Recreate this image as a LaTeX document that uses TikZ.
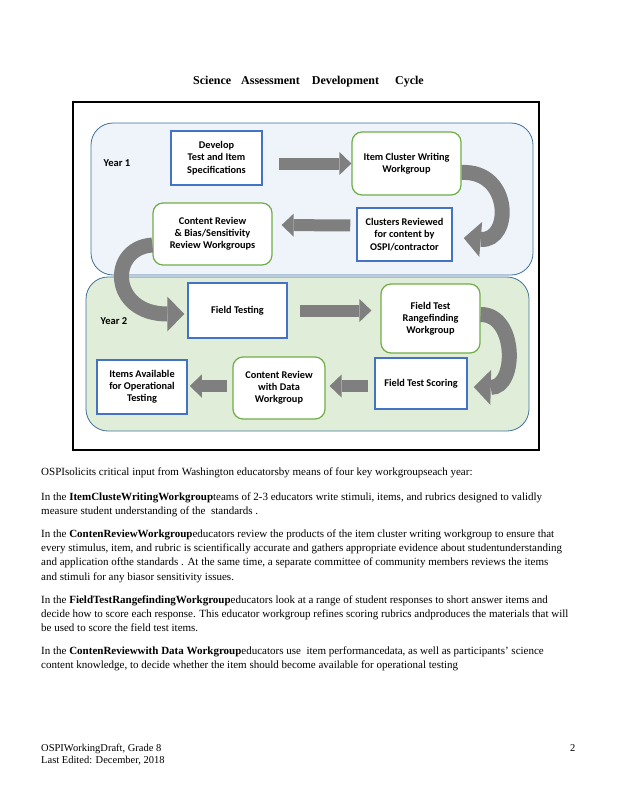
\documentclass[tikz,border=0pt]{standalone}
\usepackage{fontspec}
\setmainfont{Liberation Serif}
\newfontfamily\diagfont{Carlito}
\usetikzlibrary{arrows.meta}

\definecolor{yearone}{RGB}{239,244,251}
\definecolor{yeartwo}{RGB}{224,237,216}
\definecolor{yearline}{RGB}{65,113,156}
\definecolor{boxblue}{RGB}{68,114,196}
\definecolor{boxgreen}{RGB}{112,173,71}
\definecolor{arrowgray}{RGB}{127,127,127}

\begin{document}
\begin{tikzpicture}[x=1pt,y=-1pt,
    every node/.style={inner sep=0pt},
    stepnode/.style={font=\diagfont\bfseries\fontsize{10.3}{12.2}\selectfont, align=center, fill=white},
    bluebox/.style={stepnode, draw=boxblue, line width=1.5pt},
    greenbox/.style={stepnode, draw=boxgreen, line width=1.2pt, rounded corners=10pt},
    yearbox/.style={draw=yearline, line width=0.8pt, rounded corners=22pt},
    yearlabel/.style={font=\diagfont\bfseries\fontsize{10.5}{12}\selectfont},
    bigarrow/.style={draw=arrowgray, line width=12pt, -{Triangle[length=12pt,width=23pt,line width=0pt]}},
    bendarrow/.style={draw=arrowgray, line width=15pt, -{Triangle[length=17pt,width=35pt,line width=0pt]}},
    bodytext/.style={anchor=north west, align=left, font=\fontsize{11}{14.2}\selectfont}]

    \path[fill=white,use as bounding box] (0,0) rectangle (618,800);

    \node (Title) at (308.5,82) {\fontsize{12}{14}\selectfont\bfseries Science\hspace{10pt}Assessment\hspace{12pt}Development\hspace{16pt}Cycle};

    % frame and the two years
    \draw[line width=2pt] (73,102) rectangle (539,450);
    \draw[yearbox, fill=yearone] (91,123) rectangle (533,275);
    \draw[yearbox, fill=yeartwo] (86,277) rectangle (529,431);
    \node[yearlabel] (YearOne) at (117,163) {Year 1};
    \node[yearlabel] (YearTwo) at (114,321) {Year 2};

    % year 1
    \node[bluebox, minimum width=91pt, minimum height=54pt] (DevelopSpec) at (216.5,158) {Develop\\Test and Item\\Specifications};
    \node[greenbox, minimum width=109pt, minimum height=63pt] (ClusterWriting) at (406.5,163.5) {Item Cluster Writing\\Workgroup};
    \node[bluebox, minimum width=95pt, minimum height=53pt] (ClustersReviewed) at (404.5,234.5) {Clusters Reviewed\\for content by\\OSPI/contractor};
    \node[greenbox, minimum width=119pt, minimum height=62pt] (ContentReview) at (212.5,234) {Content Review\\\& Bias/Sensitivity\\Review Workgroups};

    % year 2
    \node[bluebox, minimum width=99pt, minimum height=55pt] (FieldTesting) at (237.5,310.5) {Field Testing};
    \node[greenbox, minimum width=99pt, minimum height=69pt] (Rangefinding) at (430.5,318.5) {Field Test\\Rangefinding\\Workgroup};
    \node[bluebox, minimum width=92pt, minimum height=51pt] (FieldScoring) at (421,383.5) {Field Test Scoring};
    \node[greenbox, minimum width=92pt, minimum height=62pt] (ContentData) at (279,388) {Content Review\\with Data\\Workgroup};
    \node[bluebox, minimum width=90pt, minimum height=54pt] (ItemsAvailable) at (142,387) {Items Available\\for Operational\\Testing};

    \begin{scope}[every path/.style={bigarrow}]
       \draw[shorten <=16pt] (DevelopSpec.east |- ClusterWriting.west) -- (ClusterWriting.west);
       \draw[shorten <=6pt, shorten >=9pt] ([yshift=9pt]ClustersReviewed.west) -- ([yshift=9pt]ContentReview.east);
       \draw[shorten <=12pt, shorten >=9pt] (FieldTesting.east) -- (FieldTesting.east -| Rangefinding.west);
       \draw[shorten <=6pt, shorten >=4pt] ([yshift=-2.5pt]FieldScoring.west) -- ([yshift=2pt]ContentData.east);
       \draw[shorten <=5pt, shorten >=2pt] ([yshift=2pt]ContentData.west) -- ([yshift=1pt]ItemsAvailable.east);
    \end{scope}

    \begin{scope}[every path/.style={bendarrow}]
       \draw ([yshift=-9pt]ClusterWriting.east) .. controls (512,170) and (512,242) .. ([xshift=11pt,yshift=-3.5pt]ClustersReviewed.east);
       \draw ([yshift=-11pt]ContentReview.west) .. controls (108,248) and (110,314) .. ([xshift=-3pt,yshift=-3.5pt]FieldTesting.west);
       \draw ([yshift=4pt]Rangefinding.east) .. controls (517,314) and (517,388) .. ([xshift=6pt,yshift=-3.5pt]FieldScoring.east);
    \end{scope}

    % text below the diagram
    \node[bodytext] (IntroText) at (41,467.5) {OSPIsolicits critical input from Washington educatorsby means of four key workgroupseach year:};
    \node[bodytext] (ClusterText) at (41,492.5) {In the \textbf{ItemClusteWritingWorkgroup}teams of 2-3 educators write stimuli, items, and rubrics designed to validly\\
       measure student understanding of the\ \ standards .};
    \node[bodytext] (ReviewText) at (41,529.5) {In the \textbf{ContenReviewWorkgroup}educators review the products of the item cluster writing workgroup to ensure that\\
       every stimulus, item, and rubric is scientifically accurate and gathers appropriate evidence about studentunderstanding\\
       and application ofthe standards . At the same time, a separate committee of community members reviews the items\\
       and stimuli for any biasor sensitivity issues.};
    \node[bodytext] (RangeText) at (41,595.5) {In the \textbf{FieldTestRangefindingWorkgroup}educators look at a range of student responses to short answer items and\\
       decide how to score each response. This educator workgroup refines scoring rubrics andproduces the materials that will\\
       be used to score the field test items.};
    \node[bodytext] (DataText) at (41,646.5) {In the \textbf{ContenReviewwith Data Workgroup}educators use\ \ item performancedata, as well as participants' science\\
       content knowledge, to decide whether the item should become available for operational testing};

    % footer
    \node[anchor=north west, align=left, font=\fontsize{10.5}{12}\selectfont] (FooterText) at (41,744) {OSPIWorkingDraft, Grade 8\\ Last Edited: December, 2018};
    \node[anchor=base west, font=\fontsize{10.5}{12}\selectfont] (PageNum) at (570,751) {2};
\end{tikzpicture}
\end{document}
